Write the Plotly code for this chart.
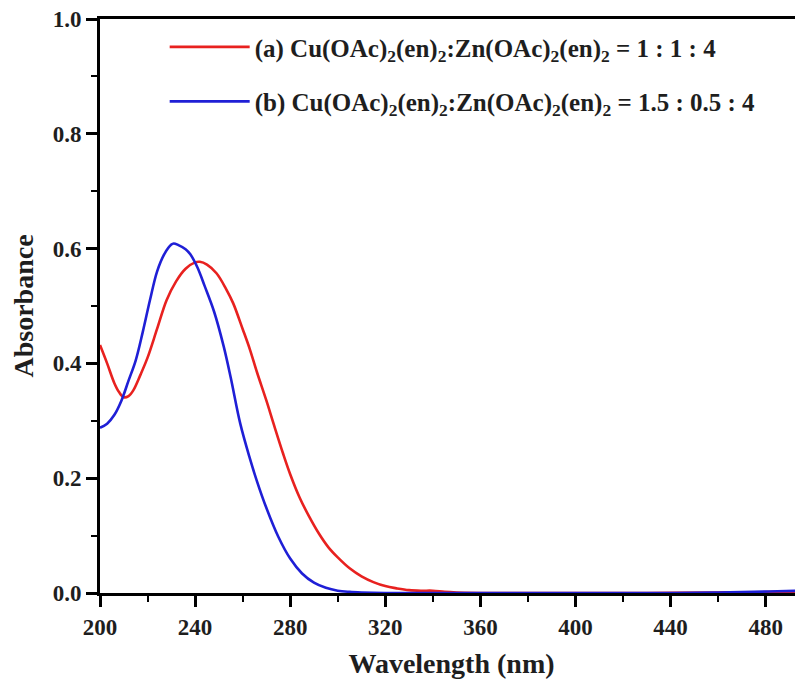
import plotly.graph_objects as go

# Wavelength (nm) and absorbance values
wl_a = [200, 203, 206, 208, 210, 212, 214, 217, 220, 224, 228, 232, 236, 240, 242, 245,
        249, 253, 256, 260, 263, 266, 270, 273, 277, 280, 284, 288, 292, 296, 300, 305,
        310, 315, 320, 325, 330, 335, 340, 345, 350, 370, 400, 430, 460, 475, 485, 495.7]
abs_a = [0.432, 0.400, 0.366, 0.350, 0.341, 0.343, 0.353, 0.380, 0.410, 0.460, 0.510, 0.543,
         0.565, 0.576, 0.577, 0.572, 0.557, 0.530, 0.505, 0.460, 0.425, 0.385, 0.335, 0.295,
         0.243, 0.207, 0.166, 0.133, 0.104, 0.080, 0.062, 0.043, 0.029, 0.019, 0.012, 0.008,
         0.005, 0.004, 0.004, 0.002, 0.001, 0.0, 0.0, 0.0, 0.001, 0.001, 0.002, 0.002]

wl_b = [200, 203, 206, 209, 212, 215, 218, 221, 224, 227, 230, 231, 233, 236, 238, 241,
        244, 248, 252, 255, 259, 263, 266, 270, 275, 280, 285, 290, 295, 300, 305, 310,
        320, 350, 400, 440, 460, 475, 485, 495.7]
abs_b = [0.288, 0.295, 0.310, 0.335, 0.370, 0.405, 0.455, 0.510, 0.560, 0.590, 0.607, 0.609,
         0.606, 0.599, 0.590, 0.567, 0.535, 0.490, 0.430, 0.375, 0.295, 0.235, 0.195, 0.148,
         0.098, 0.060, 0.034, 0.018, 0.009, 0.004, 0.002, 0.001, 0.0, 0.0, 0.0, 0.0, 0.001,
         0.002, 0.003, 0.004]

name_a = "(a) Cu(OAc)<sub>2</sub>(en)<sub>2</sub>:Zn(OAc)<sub>2</sub>(en)<sub>2</sub> = 1 : 1 : 4"
name_b = "(b) Cu(OAc)<sub>2</sub>(en)<sub>2</sub>:Zn(OAc)<sub>2</sub>(en)<sub>2</sub> = 1.5 : 0.5 : 4"

x_ticks = [200, 240, 280, 320, 360, 400, 440, 480]
y_ticks = [0.0, 0.2, 0.4, 0.6, 0.8, 1.0]
y_ticklabels = ["0.0", "0.2", "0.4", "0.6", "0.8", "1.0"]

FONT = "Liberation Serif"
TXT = "#1e1e1e"

fig = go.Figure()
fig.add_trace(go.Scatter(x=wl_a, y=abs_a, mode="lines", name=name_a, legendgroup="a",
                         line=dict(color="#e8211f", width=2.6, shape="spline", smoothing=1.0)))
fig.add_trace(go.Scatter(x=wl_b, y=abs_b, mode="lines", name=name_b, legendgroup="b",
                         line=dict(color="#1f1fd6", width=2.6, shape="spline", smoothing=1.0)))

axis_common = dict(
    showline=True, linecolor="black", linewidth=2.8, ticks="outside", ticklen=11,
    tickwidth=2.5, tickcolor="black", showgrid=False, zeroline=False, automargin=False,
    ticklabeloverflow="allow",
    tickfont=dict(family=FONT, size=23, color=TXT, weight="bold"),
)

# The page body adds an 8px margin, so the figure is sized to fit inside the window.
fig.update_layout(
    width=795, height=671,
    margin=dict(l=92, r=0, t=11, b=86),
    paper_bgcolor="white", plot_bgcolor="white",
    showlegend=True,
    legend=dict(x=0.092, y=0.991, xanchor="left", yanchor="top",
                font=dict(family=FONT, size=25, color=TXT, weight="bold"),
                bgcolor="rgba(0,0,0,0)", traceorder="grouped", tracegroupgap=19,
                itemwidth=80),
    xaxis=dict(range=[200, 495.7], tickvals=x_ticks, mirror=True,
               minor=dict(dtick=20, tick0=200, ticks="outside", ticklen=6, tickwidth=2.2,
                          tickcolor="black"),
               title=dict(text="Wavelength (nm)", standoff=21,
                          font=dict(family=FONT, size=28, color=TXT, weight="bold")),
               **axis_common),
    yaxis=dict(range=[0, 1.0], tickvals=y_ticks, ticktext=y_ticklabels,
               minor=dict(dtick=0.1, tick0=0, ticks="outside", ticklen=6, tickwidth=2.2,
                          tickcolor="black"),
               title=dict(text="Absorbance", standoff=14,
                          font=dict(family=FONT, size=28, color=TXT, weight="bold")),
               **axis_common),
)

fig.write_html("out.html")
